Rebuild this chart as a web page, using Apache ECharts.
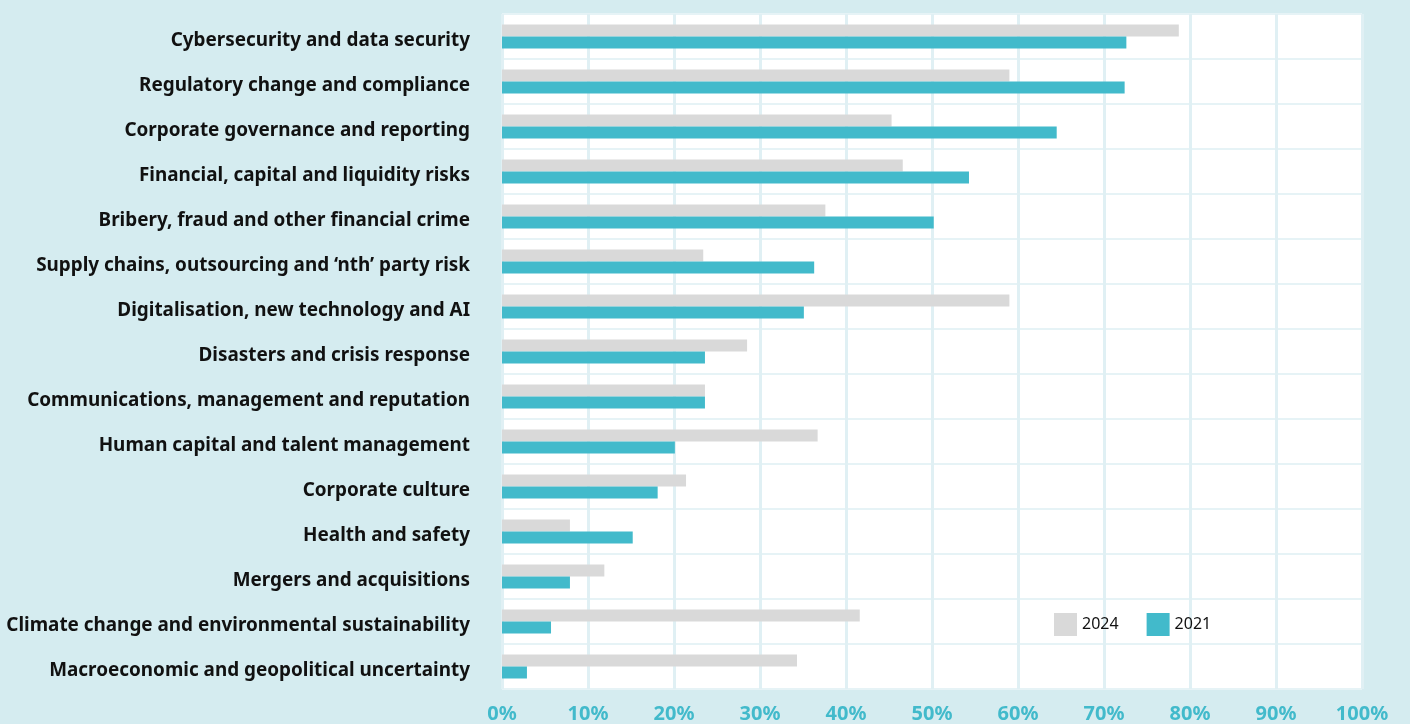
<!DOCTYPE html>
<html><head><meta charset="utf-8">
<script src="https://cdn.jsdelivr.net/npm/echarts@6/dist/echarts.min.js"></script>
<style>html,body{margin:0;padding:0;background:#d5ecf0;}#c{width:1410px;height:724px;}</style>
</head><body><div id="c"></div>
<script>
const categories = [
  "Cybersecurity and data security",
  "Regulatory change and compliance",
  "Corporate governance and reporting",
  "Financial, capital and liquidity risks",
  "Bribery, fraud and other financial crime",
  "Supply chains, outsourcing and \u2018nth\u2019 party risk",
  "Digitalisation, new technology and AI",
  "Disasters and crisis response",
  "Communications, management and reputation",
  "Human capital and talent management",
  "Corporate culture",
  "Health and safety",
  "Mergers and acquisitions",
  "Climate change and environmental sustainability",
  "Macroeconomic and geopolitical uncertainty"
];
const values2024 = [78.7, 59.0, 45.3, 46.6, 37.6, 23.4, 59.0, 28.5, 23.6, 36.7, 21.4, 7.9, 11.9, 41.6, 34.3];
const values2021 = [72.6, 72.4, 64.5, 54.3, 50.2, 36.3, 35.1, 23.6, 23.6, 20.1, 18.1, 15.2, 7.9, 5.7, 2.9];
const xTicks = [0, 10, 20, 30, 40, 50, 60, 70, 80, 90, 100];

const chart = echarts.init(document.getElementById('c'));
chart.setOption({
  backgroundColor: '#d5ecf0',
  animation: false,
  grid: { left: 502, right: 48, top: 14, bottom: 31, show: true, backgroundColor: '#ffffff', borderWidth: 0 },
  legend: {
    data: ['2024', '2021'],
    left: 1054, top: 613, padding: 0,
    itemWidth: 23, itemHeight: 23, itemGap: 28,
    textStyle: { fontFamily: 'Noto Sans', fontSize: 16, color: '#111' },
    icon: 'rect'
  },
  xAxis: {
    type: 'value', min: xTicks[0], max: xTicks[xTicks.length - 1], interval: 10,
    axisLine: { show: false }, axisTick: { show: false },
    splitLine: { show: true, lineStyle: { color: '#e0f0f4', width: 3 } },
    axisLabel: { formatter: v => v + '%', color: '#42bacb', fontFamily: 'Noto Sans', fontWeight: 'bold', fontSize: 20, margin: 15 }
  },
  yAxis: {
    type: 'category', data: categories, inverse: true,
    axisLine: { show: false }, axisTick: { show: false },
    splitLine: { show: true, lineStyle: { color: '#e6f3f6', width: 2 } },
    axisLabel: {
      margin: 32,
      formatter: v => '{a|' + v + '}',
      rich: { a: { color: '#111', fontFamily: 'Noto Sans', fontWeight: 'bold', fontSize: 18.9, padding: [8, 0, 0, 0] } }
    }
  },
  series: [
    { name: '2024', type: 'bar', data: values2024, barWidth: 12, barGap: '0%', itemStyle: { color: '#d9d9d9' } },
    { name: '2021', type: 'bar', data: values2021, barWidth: 12, barGap: '0%', itemStyle: { color: '#42bacb' } }
  ]
});
</script></body></html>
